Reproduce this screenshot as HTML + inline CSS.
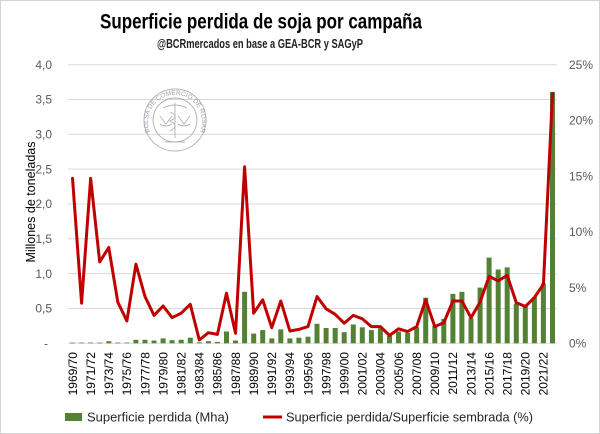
<!DOCTYPE html>
<html><head><meta charset="utf-8"><style>
html,body{margin:0;padding:0;background:#fff;}
svg{display:block;}
text{font-family:"Liberation Sans",sans-serif;}
</style></head><body>
<svg width="600" height="434" viewBox="0 0 600 434" xmlns="http://www.w3.org/2000/svg">
<rect x="0.5" y="0.5" width="599" height="433" fill="#fff" stroke="#d4d4d4"/>
<text x="261" y="28.5" font-size="21" font-weight="bold" text-anchor="middle" textLength="322" lengthAdjust="spacingAndGlyphs" fill="#000">Superficie perdida de soja por campaña</text>
<text x="260" y="48" font-size="12.5" font-weight="bold" text-anchor="middle" textLength="206" lengthAdjust="spacingAndGlyphs" fill="#222">@BCRmercados en base a GEA-BCR y SAGyP</text>
<!-- gridlines -->
<g stroke="#d9d9d9" stroke-width="1">
<line x1="68" x2="557" y1="64.7" y2="64.7"/>
<line x1="68" x2="557" y1="99.5" y2="99.5"/>
<line x1="68" x2="557" y1="134.3" y2="134.3"/>
<line x1="68" x2="557" y1="169.1" y2="169.1"/>
<line x1="68" x2="557" y1="204.0" y2="204.0"/>
<line x1="68" x2="557" y1="238.8" y2="238.8"/>
<line x1="68" x2="557" y1="273.6" y2="273.6"/>
<line x1="68" x2="557" y1="308.5" y2="308.5"/>
<line x1="68" x2="557" y1="343.3" y2="343.3"/>
</g>
<!-- watermark -->
<g fill="none" stroke="#9aa0a8" stroke-width="0.9" opacity="0.8">
<circle cx="175" cy="120" r="31"/>
<circle cx="175" cy="120" r="22"/>
<line x1="175" y1="103" x2="175" y2="138"/>
<path d="M163 108 Q175 102 187 108"/>
<path d="M160 116 L166 124 L172 116 M178 116 L184 124 L190 116"/>
<path d="M160 124 Q166 128 172 124 M178 124 Q184 128 190 124"/>
<path d="M170 112 Q180 116 170 121 Q180 126 170 131"/>
<line x1="165" y1="142" x2="185" y2="142"/>
</g>
<defs><path id="wm" d="M150 132 A27 27 0 1 1 200 132"/></defs>
<text font-size="6.5" fill="#8a9099" opacity="0.85"><textPath href="#wm">BOLSA DE COMERCIO DE ROSARIO</textPath></text>
<!-- bars -->
<g fill="#548235">
<rect x="70.0" y="342.6" width="5" height="0.7"/>
<rect x="79.1" y="342.6" width="5" height="0.7"/>
<rect x="88.1" y="342.6" width="5" height="0.7"/>
<rect x="97.2" y="342.6" width="5" height="0.7"/>
<rect x="106.3" y="341.2" width="5" height="2.1"/>
<rect x="115.3" y="342.6" width="5" height="0.7"/>
<rect x="124.4" y="342.6" width="5" height="0.7"/>
<rect x="133.4" y="339.8" width="5" height="3.5"/>
<rect x="142.5" y="339.8" width="5" height="3.5"/>
<rect x="151.5" y="340.5" width="5" height="2.8"/>
<rect x="160.6" y="338.4" width="5" height="4.9"/>
<rect x="169.6" y="340.2" width="5" height="3.1"/>
<rect x="178.7" y="339.8" width="5" height="3.5"/>
<rect x="187.8" y="337.7" width="5" height="5.6"/>
<rect x="196.8" y="342.3" width="5" height="1.0"/>
<rect x="205.9" y="341.2" width="5" height="2.1"/>
<rect x="214.9" y="341.9" width="5" height="1.4"/>
<rect x="224.0" y="331.5" width="5" height="11.8"/>
<rect x="233.0" y="340.5" width="5" height="2.8"/>
<rect x="242.1" y="291.8" width="5" height="51.5"/>
<rect x="251.2" y="333.6" width="5" height="9.7"/>
<rect x="260.2" y="330.1" width="5" height="13.2"/>
<rect x="269.3" y="338.4" width="5" height="4.9"/>
<rect x="278.3" y="329.4" width="5" height="13.9"/>
<rect x="287.4" y="338.4" width="5" height="4.9"/>
<rect x="296.4" y="337.7" width="5" height="5.6"/>
<rect x="305.5" y="336.7" width="5" height="6.6"/>
<rect x="314.5" y="323.8" width="5" height="19.5"/>
<rect x="323.6" y="328.0" width="5" height="15.3"/>
<rect x="332.7" y="328.0" width="5" height="15.3"/>
<rect x="341.7" y="332.2" width="5" height="11.1"/>
<rect x="350.8" y="324.5" width="5" height="18.8"/>
<rect x="359.8" y="327.3" width="5" height="16.0"/>
<rect x="368.9" y="330.1" width="5" height="13.2"/>
<rect x="377.9" y="328.3" width="5" height="15.0"/>
<rect x="387.0" y="336.0" width="5" height="7.3"/>
<rect x="396.0" y="331.5" width="5" height="11.8"/>
<rect x="405.1" y="332.9" width="5" height="10.4"/>
<rect x="414.2" y="327.3" width="5" height="16.0"/>
<rect x="423.2" y="297.7" width="5" height="45.6"/>
<rect x="432.3" y="325.9" width="5" height="17.4"/>
<rect x="441.3" y="318.9" width="5" height="24.4"/>
<rect x="450.4" y="293.9" width="5" height="49.4"/>
<rect x="459.4" y="291.8" width="5" height="51.5"/>
<rect x="468.5" y="318.2" width="5" height="25.1"/>
<rect x="477.6" y="287.6" width="5" height="55.7"/>
<rect x="486.6" y="257.6" width="5" height="85.7"/>
<rect x="495.7" y="269.5" width="5" height="73.8"/>
<rect x="504.7" y="267.4" width="5" height="75.9"/>
<rect x="513.8" y="303.6" width="5" height="39.7"/>
<rect x="522.8" y="306.4" width="5" height="36.9"/>
<rect x="531.9" y="297.3" width="5" height="46.0"/>
<rect x="540.9" y="283.4" width="5" height="59.9"/>
<rect x="550.0" y="91.9" width="5" height="251.4"/>
</g>
<!-- line -->
<polyline fill="none" stroke="#c00000" stroke-width="3" stroke-linejoin="round" stroke-linecap="round" points="72.53,178.4 81.59,303.2 90.64,178.4 99.70,261.9 108.75,247.5 117.81,302.1 126.87,321.0 135.92,264.2 144.98,296.5 154.03,315.4 163.09,306.0 172.15,317.7 181.20,313.2 190.26,304.3 199.31,340.0 208.37,332.7 217.43,334.4 226.48,293.2 235.54,333.3 244.59,166.7 253.65,313.2 262.71,299.8 271.76,327.7 280.82,301.0 289.87,331.0 298.93,329.4 307.99,326.6 317.04,296.5 326.10,308.8 335.15,314.3 344.21,323.2 353.27,315.4 362.32,318.8 371.38,326.6 380.43,326.6 389.49,335.5 398.55,328.8 407.60,331.6 416.66,326.6 425.71,299.8 434.77,326.6 443.83,322.7 452.88,301.0 461.94,301.0 470.99,317.7 480.05,302.1 489.11,276.4 498.16,280.9 507.22,275.3 516.27,302.6 525.33,306.5 534.39,297.6 543.44,284.2 552.50,93.7"/>
<!-- left axis labels -->
<g font-size="12" fill="#595959" text-anchor="end">
<text x="52" y="68.9">4,0</text>
<text x="52" y="103.7">3,5</text>
<text x="52" y="138.5">3,0</text>
<text x="52" y="173.3">2,5</text>
<text x="52" y="208.2">2,0</text>
<text x="52" y="243.0">1,5</text>
<text x="52" y="277.8">1,0</text>
<text x="52" y="312.7">0,5</text>
<text x="48" y="347.5">-</text>
</g>
<!-- right axis labels -->
<g font-size="12" fill="#595959">
<text x="569" y="68.9">25%</text>
<text x="569" y="124.6">20%</text>
<text x="569" y="180.4">15%</text>
<text x="569" y="236.1">10%</text>
<text x="569" y="291.8">5%</text>
<text x="569" y="347.5">0%</text>
</g>
<text transform="translate(35,202) rotate(-90)" font-size="13" fill="#000" text-anchor="middle" textLength="121" lengthAdjust="spacingAndGlyphs">Millones de toneladas</text>
<!-- x labels -->
<g font-size="12" fill="#000" text-anchor="end">
<text transform="translate(76.8,352) rotate(-90)">1969/70</text>
<text transform="translate(94.9,352) rotate(-90)">1971/72</text>
<text transform="translate(113.1,352) rotate(-90)">1973/74</text>
<text transform="translate(131.2,352) rotate(-90)">1975/76</text>
<text transform="translate(149.3,352) rotate(-90)">1977/78</text>
<text transform="translate(167.4,352) rotate(-90)">1979/80</text>
<text transform="translate(185.5,352) rotate(-90)">1981/82</text>
<text transform="translate(203.6,352) rotate(-90)">1983/84</text>
<text transform="translate(221.7,352) rotate(-90)">1985/86</text>
<text transform="translate(239.8,352) rotate(-90)">1987/88</text>
<text transform="translate(258.0,352) rotate(-90)">1989/90</text>
<text transform="translate(276.1,352) rotate(-90)">1991/92</text>
<text transform="translate(294.2,352) rotate(-90)">1993/94</text>
<text transform="translate(312.3,352) rotate(-90)">1995/96</text>
<text transform="translate(330.4,352) rotate(-90)">1997/98</text>
<text transform="translate(348.5,352) rotate(-90)">1999/00</text>
<text transform="translate(366.6,352) rotate(-90)">2001/02</text>
<text transform="translate(384.7,352) rotate(-90)">2003/04</text>
<text transform="translate(402.9,352) rotate(-90)">2005/06</text>
<text transform="translate(421.0,352) rotate(-90)">2007/08</text>
<text transform="translate(439.1,352) rotate(-90)">2009/10</text>
<text transform="translate(457.2,352) rotate(-90)">2011/12</text>
<text transform="translate(475.3,352) rotate(-90)">2013/14</text>
<text transform="translate(493.4,352) rotate(-90)">2015/16</text>
<text transform="translate(511.5,352) rotate(-90)">2017/18</text>
<text transform="translate(529.6,352) rotate(-90)">2019/20</text>
<text transform="translate(547.7,352) rotate(-90)">2021/22</text>
</g>
<!-- legend -->
<rect x="65" y="413" width="17" height="8" fill="#548235"/>
<text x="87" y="421.5" font-size="12.5" fill="#262626" textLength="142" lengthAdjust="spacingAndGlyphs">Superficie perdida (Mha)</text>
<line x1="263" y1="417" x2="282" y2="417" stroke="#c00000" stroke-width="3"/>
<text x="286" y="421.5" font-size="12.5" fill="#262626" textLength="247" lengthAdjust="spacingAndGlyphs">Superficie perdida/Superficie sembrada (%)</text>
</svg>
</body></html>
